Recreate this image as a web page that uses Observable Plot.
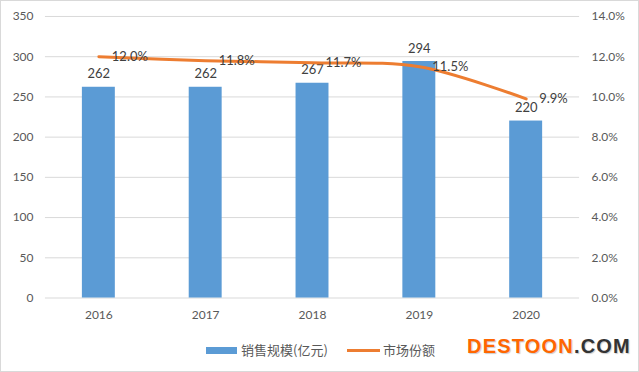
<!DOCTYPE html>
<html>
<head>
<meta charset="utf-8">
<script src="https://cdn.jsdelivr.net/npm/d3@7"></script>
<script src="https://cdn.jsdelivr.net/npm/@observablehq/plot@0.6"></script>
<style>
  html, body { margin: 0; padding: 0; background: #fff; }
  #wrap { position: relative; width: 639px; height: 372px; box-sizing: border-box; border: 1px solid #d9d9d9; overflow: hidden; }
  #chart { position: absolute; left: -1px; top: -1px; }
  .legend { position: absolute; top: 339px; font-family: "Noto Sans CJK SC", sans-serif; font-size: 13px; color: #595959; }
  .wm { position: absolute; left: 466px; top: 334px; font-family: "Liberation Sans", Arial, sans-serif; font-weight: bold; font-size: 20px; letter-spacing: 1.2px; text-shadow: 1px 1px 1px #ccc; }
</style>
</head>
<body>
<div id="wrap">
  <div id="chart"></div>
  <div class="legend" style="left:205px;"><span style="display:inline-block;width:31px;height:7px;background:#5B9BD5;vertical-align:middle;margin-right:4px;position:relative;top:-1px;"></span>销售规模(亿元)</div>
  <div class="legend" style="left:346px;"><span style="display:inline-block;width:33px;height:3px;background:#ED7D31;vertical-align:middle;margin-right:3px;position:relative;top:-1px;"></span>市场份额</div>
  <div class="wm"><span style="color:#FF6600">DESTOON</span><span style="color:#333">.COM</span></div>
</div>
<script>
const years = ["2016", "2017", "2018", "2019", "2020"];
const sales = [262, 262, 267, 294, 220];
const share = [12.0, 11.8, 11.7, 11.5, 9.9];
const leftTicks = [0, 50, 100, 150, 200, 250, 300, 350];
const rightTicks = [0, 2, 4, 6, 8, 10, 12, 14];

const k = 350 / 14;
const data = years.map((y, i) => ({year: y, sales: sales[i], share: share[i], shareY: share[i] * k}));

const chart = Plot.plot({
  width: 639,
  height: 330,
  marginTop: 16,
  marginBottom: 32,
  marginLeft: 45,
  marginRight: 59,
  style: {fontFamily: "Lato, 'Noto Sans', sans-serif", fontSize: "12px", color: "#595959", background: "transparent"},
  x: {domain: years, paddingInner: 0.69, paddingOuter: 0.345, label: null},
  y: {domain: [0, 350], label: null},
  marks: [
    Plot.gridY(leftTicks, {stroke: "#d9d9d9", strokeOpacity: 1}),
    Plot.axisY({ticks: leftTicks, tickSize: 0, tickPadding: 12, label: null, fill: "#595959", fontSize: 12}),
    Plot.axisY({anchor: "right", ticks: rightTicks.map(v => v * k), tickSize: 0, tickPadding: 12, label: null, textAnchor: "start", tickFormat: d => (d / k).toFixed(1) + "%", fill: "#595959", fontSize: 12}),
    Plot.axisX({tickSize: 0, tickPadding: 12, label: null, fill: "#595959", fontSize: 12}),
    Plot.barY(data, {x: "year", y: "sales", fill: "#5B9BD5"}),
    Plot.text(data, {x: "year", y: "sales", text: d => String(d.sales), dy: -13, fill: "#404040", fontSize: 13}),
    Plot.line(data, {x: "year", y: "shareY", stroke: "#ED7D31", strokeWidth: 3, curve: "catmull-rom"}),
    Plot.text(data, {x: "year", y: "shareY", text: d => d.share.toFixed(1) + "%", dx: 13, textAnchor: "start", fill: "#404040", fontSize: 13})
  ]
});
document.getElementById("chart").appendChild(chart);
</script>
</body>
</html>
